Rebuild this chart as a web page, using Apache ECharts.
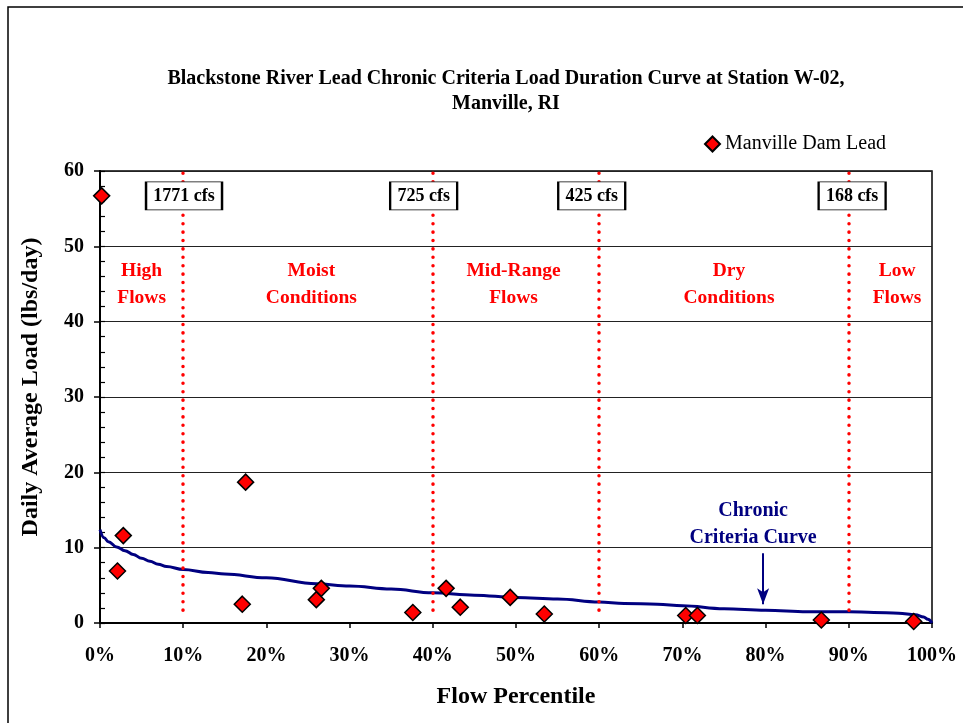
<!DOCTYPE html>
<html>
<head>
<meta charset="utf-8">
<script src="https://cdn.jsdelivr.net/npm/echarts@6/dist/echarts.min.js"></script>
<style>
  html, body { margin: 0; padding: 0; background: #fff; }
  #main { width: 963px; height: 723px; }
</style>
</head>
<body>
<div id="main"></div>
<script>
// chronic criteria curve (flow percentile, lbs/day)
var curvePct  = [0, 0.5, 1, 2, 3, 4, 5, 6, 7, 8, 10, 13, 15, 20, 26, 30, 35, 40, 45, 50, 55, 60, 63, 67, 70, 75, 80, 85, 90, 93, 96, 98, 99, 99.5, 100];
var curveLoad = [12.4, 11.3, 10.8, 10.1, 9.6, 9.1, 8.6, 8.2, 7.8, 7.5, 7.1, 6.7, 6.5, 6.0, 5.2, 4.9, 4.5, 4.0, 3.7, 3.4, 3.2, 2.8, 2.6, 2.5, 2.3, 1.9, 1.7, 1.5, 1.5, 1.4, 1.3, 1.1, 0.8, 0.5, 0.0];

// Manville Dam samples
var samplePct  = [0.2, 2.1, 2.8, 17.5, 17.1, 26.0, 26.6, 37.6, 41.6, 43.3, 49.3, 53.4, 70.4, 71.8, 86.7, 97.8];
var sampleLoad = [56.7, 6.9, 11.6, 18.7, 2.5, 3.1, 4.6, 1.4, 4.6, 2.1, 3.4, 1.2, 1.0, 1.0, 0.4, 0.2];

// flow zone breaks
var breakPct   = [10, 40, 60, 90];
var breakFlow  = ['1771 cfs', '725 cfs', '425 cfs', '168 cfs'];
var zoneNames  = ['High\nFlows', 'Moist\nConditions', 'Mid-Range\nFlows', 'Dry\nConditions', 'Low\nFlows'];

var FONT = 'Liberation Serif';

// where the annotation boxes / zone labels sit (in data coords)
var boxAt  = [[10.1, 56.7], [38.9, 56.7], [59.1, 56.7], [90.4, 56.7]];
var boxW   = [76, 67, 67, 67];
var zoneAt = [5.0, 25.4, 49.7, 75.6, 95.8];

var chart = echarts.init(document.getElementById('main'));

var option = {
  backgroundColor: '#fff',
  animation: false,
  legend: {
    data: ['Manville Dam Lead'],
    left: 699,
    top: 129,
    icon: 'diamond',
    itemWidth: 15,
    itemHeight: 15,
    itemGap: 5,
    textStyle: { fontFamily: FONT, fontSize: 20, color: '#000' }
  },
  graphic: [{
    type: 'rect',
    shape: { x: 8, y: 7, width: 970, height: 740 },
    style: { fill: 'none', stroke: '#000', lineWidth: 1.5 },
    silent: true
  }, {
    // chart title
    type: 'text',
    x: 506,
    y: 66,
    style: {
      text: 'Blackstone River Lead Chronic Criteria Load Duration Curve at Station W-02,\nManville, RI',
      align: 'center',
      verticalAlign: 'top',
      lineHeight: 25,
      font: 'bold 20px "Liberation Serif"',
      fill: '#000'
    }
  }],
  grid: {
    left: 100, right: 31, top: 171, bottom: 100,
    show: true, borderColor: '#000', borderWidth: 1.5,
    backgroundColor: 'transparent'
  },
  xAxis: {
    type: 'value',
    min: 0, max: 100, interval: 10,
    name: 'Flow Percentile',
    nameLocation: 'middle',
    nameGap: 62,
    nameTextStyle: { fontFamily: FONT, fontSize: 24, fontWeight: 'bold', color: '#000' },
    axisLine: { lineStyle: { color: '#000', width: 2 } },
    axisTick: { length: 5, lineStyle: { color: '#000', width: 1.5 } },
    axisLabel: { formatter: '{value}%', margin: 23, fontFamily: FONT, fontSize: 20, fontWeight: 'bold', color: '#000' },
    splitLine: { show: false }
  },
  yAxis: [{
    type: 'value',
    min: 0, max: 60, interval: 10,
    name: 'Daily Average Load (lbs/day)',
    nameLocation: 'middle',
    nameGap: 57,
    nameTextStyle: { fontFamily: FONT, fontSize: 24, fontWeight: 'bold', color: '#000', padding: [0, 0, 0, 20] },
    axisLine: { show: true, lineStyle: { color: '#000', width: 2 } },
    axisTick: { show: true, length: 6, lineStyle: { color: '#000', width: 1.5 } },
    axisLabel: { margin: 16, fontFamily: FONT, fontSize: 20, fontWeight: 'bold', color: '#000' },
    splitLine: { show: true, lineStyle: { color: '#222', width: 1 } }
  }, {
    // minor ticks drawn inside the plot
    type: 'value',
    position: 'left',
    min: 0, max: 60, interval: 2,
    axisLine: { show: false },
    axisTick: { show: true, inside: true, length: 5, lineStyle: { color: '#000', width: 1.2 } },
    axisLabel: { show: false },
    splitLine: { show: false }
  }],
  series: [{
    // dotted zone dividers
    name: 'zones',
    type: 'line',
    data: [],
    z: 1,
    silent: true,
    markLine: {
      silent: true,
      symbol: ['none', 'none'],
      label: { show: false },
      lineStyle: { color: '#ff0000', width: 3.5, type: [0.1, 8.3], cap: 'round' },
      data: breakPct.map(function (p) { return [{ coord: [p, 59.7] }, { coord: [p, 1] }]; })
    }
  }, {
    name: 'Chronic Criteria Curve',
    type: 'line',
    z: 3,
    data: curvePct.map(function (p, i) { return [p, curveLoad[i]]; }),
    showSymbol: false,
    smooth: 0.4,
    smoothMonotone: 'x',
    lineStyle: { color: '#000080', width: 3 },
    itemStyle: { color: '#000080' }
  }, {
    name: 'Manville Dam Lead',
    type: 'scatter',
    z: 4,
    data: samplePct.map(function (p, i) { return [p, sampleLoad[i]]; }),
    symbol: 'diamond',
    symbolSize: 16,
    itemStyle: { color: '#ff0000', borderColor: '#000', borderWidth: 1.5, opacity: 1 }
  }, {
    // text annotations
    name: 'labels',
    type: 'line',
    data: [],
    z: 6,
    silent: true,
    markLine: {
      silent: true,
      symbol: ['none', 'arrow'],
      symbolSize: [9, 16],
      label: { show: false },
      lineStyle: { color: '#000080', width: 2, type: 'solid' },
      data: [[{ coord: [79.7, 9.25] }, { coord: [79.7, 2.5] }]]
    },
    markPoint: {
      silent: true,
      data: breakFlow.map(function (t, i) {
        return {
          coord: boxAt[i],
          symbol: 'rect',
          symbolSize: [boxW[i], 28],
          itemStyle: { color: '#fff', borderColor: '#000', borderWidth: 1.5 },
          label: {
            show: true, position: 'inside', formatter: t,
            fontFamily: FONT, fontSize: 18, fontWeight: 'bold', color: '#000'
          }
        };
      }).concat(zoneNames.map(function (t, i) {
        return {
          coord: [zoneAt[i], 45.0],
          symbol: 'rect',
          symbolSize: 1,
          itemStyle: { color: 'rgba(0,0,0,0)' },
          label: {
            show: true, position: 'inside', formatter: t, align: 'center',
            lineHeight: 27, fontFamily: FONT, fontSize: 19.5, fontWeight: 'bold', color: '#ff0000'
          }
        };
      })).concat([{
        coord: [78.5, 13.1],
        symbol: 'rect',
        symbolSize: 1,
        itemStyle: { color: 'rgba(0,0,0,0)' },
        label: {
          show: true, position: 'inside', formatter: 'Chronic\nCriteria Curve', align: 'center',
          lineHeight: 27, fontFamily: FONT, fontSize: 20, fontWeight: 'bold', color: '#000080'
        }
      }])
    }
  }]
};

chart.setOption(option);
</script>
</body>
</html>
